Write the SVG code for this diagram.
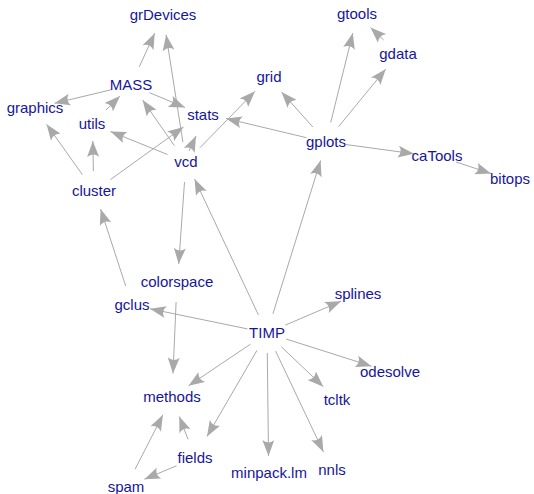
<svg xmlns="http://www.w3.org/2000/svg" width="534" height="494" viewBox="0 0 534 494">
<style>
.lbl{font-family:"Liberation Sans",Arial,Helvetica,sans-serif;font-size:15px;fill:#16169A;text-anchor:middle}
.e line{stroke:#A9A9A9;stroke-width:1;marker-end:url(#arr)}
</style>
<defs>
<marker id="arr" viewBox="-16 -6 16 12" refX="0" refY="0" markerWidth="16" markerHeight="12" markerUnits="userSpaceOnUse" orient="auto">
<path d="M0,0 L-16,-6 Q-11,0 -16,6 Z" fill="#A9A9A9"/>
</marker>
</defs>
<rect width="534" height="494" fill="#fff"/>
<g id="edges" class="e">
<line x1="139.3" y1="66.8" x2="154.7" y2="33.2"/>
<line x1="182.9" y1="142.2" x2="166.1" y2="34.8"/>
<line x1="111.5" y1="89.7" x2="54.5" y2="103.3"/>
<line x1="106" y1="110" x2="120" y2="96"/>
<line x1="149.5" y1="92.7" x2="185" y2="107.5"/>
<line x1="174.4" y1="145.7" x2="142.6" y2="100"/>
<line x1="189" y1="151" x2="196" y2="136"/>
<line x1="167.5" y1="154.5" x2="110.5" y2="131.5"/>
<line x1="200" y1="147.7" x2="255" y2="91.3"/>
<line x1="306.5" y1="137.7" x2="226" y2="118.5"/>
<line x1="82.4" y1="174.7" x2="46.6" y2="124.3"/>
<line x1="93.4" y1="171" x2="92.8" y2="141"/>
<line x1="110.4" y1="179.6" x2="183.5" y2="127"/>
<line x1="312.8" y1="127" x2="281.5" y2="92"/>
<line x1="330.7" y1="122.6" x2="352.8" y2="33"/>
<line x1="383.7" y1="40" x2="370.5" y2="27.5"/>
<line x1="338.7" y1="126.5" x2="385.8" y2="69"/>
<line x1="345.8" y1="144.5" x2="414" y2="153.8"/>
<line x1="456" y1="162" x2="491" y2="173.5"/>
<line x1="272.9" y1="313.9" x2="320.6" y2="160.5"/>
<line x1="258.4" y1="314.9" x2="194.6" y2="179"/>
<line x1="184.5" y1="182" x2="178.7" y2="264"/>
<line x1="125.7" y1="286" x2="100.6" y2="209"/>
<line x1="247.4" y1="328.9" x2="150" y2="308.8"/>
<line x1="285.4" y1="325.1" x2="341" y2="301.3"/>
<line x1="286.1" y1="339" x2="371.5" y2="366.2"/>
<line x1="281.4" y1="346.8" x2="323.3" y2="386.7"/>
<line x1="176.1" y1="302" x2="173" y2="373.5"/>
<line x1="250.4" y1="344.2" x2="188.6" y2="385.8"/>
<line x1="257" y1="350.3" x2="207" y2="436.5"/>
<line x1="267.3" y1="353" x2="268.5" y2="456"/>
<line x1="275.6" y1="351.1" x2="323.4" y2="451.9"/>
<line x1="135.1" y1="469.2" x2="162.9" y2="414.8"/>
<line x1="188" y1="439.3" x2="179.3" y2="416.5"/>
<line x1="176.6" y1="465.8" x2="144.4" y2="479.2"/>
</g>
<g id="grDevices"><text class="lbl" x="163" y="20">grDevices</text></g>
<g id="MASS"><text class="lbl" x="131" y="90">MASS</text></g>
<g id="graphics"><text class="lbl" x="35" y="113">graphics</text></g>
<g id="utils"><text class="lbl" x="92" y="129">utils</text></g>
<g id="stats"><text class="lbl" x="203" y="120">stats</text></g>
<g id="vcd"><text class="lbl" x="186" y="167">vcd</text></g>
<g id="cluster"><text class="lbl" x="94" y="196">cluster</text></g>
<g id="grid"><text class="lbl" x="269" y="82">grid</text></g>
<g id="gtools"><text class="lbl" x="357" y="19">gtools</text></g>
<g id="gdata"><text class="lbl" x="398" y="59">gdata</text></g>
<g id="gplots"><text class="lbl" x="326" y="147">gplots</text></g>
<g id="caTools"><text class="lbl" x="437" y="161">caTools</text></g>
<g id="bitops"><text class="lbl" x="510" y="184">bitops</text></g>
<g id="colorspace"><text class="lbl" x="177" y="287">colorspace</text></g>
<g id="gclus"><text class="lbl" x="132" y="310">gclus</text></g>
<g id="TIMP"><text class="lbl" x="267" y="338">TIMP</text></g>
<g id="splines"><text class="lbl" x="358" y="299">splines</text></g>
<g id="odesolve"><text class="lbl" x="390" y="377">odesolve</text></g>
<g id="tcltk"><text class="lbl" x="337" y="405">tcltk</text></g>
<g id="methods"><text class="lbl" x="172" y="402">methods</text></g>
<g id="fields"><text class="lbl" x="195" y="463">fields</text></g>
<g id="spam"><text class="lbl" x="126" y="492">spam</text></g>
<g id="minpack.lm"><text class="lbl" x="269" y="478">minpack.lm</text></g>
<g id="nnls"><text class="lbl" x="332" y="475">nnls</text></g>
</svg>
